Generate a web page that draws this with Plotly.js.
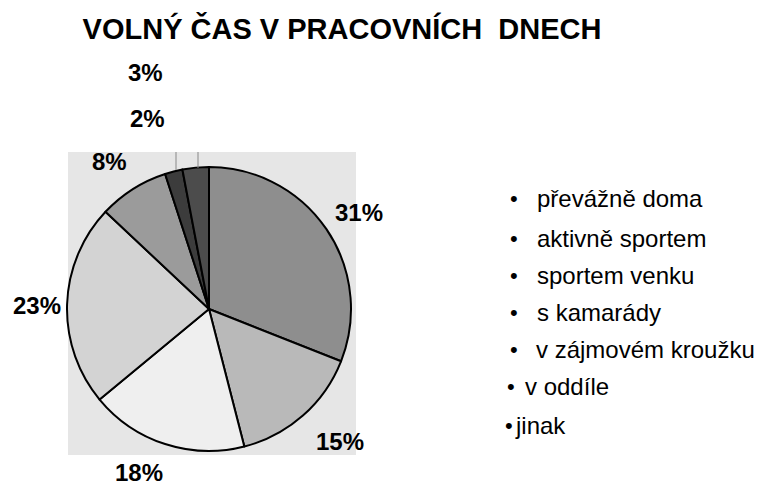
<!DOCTYPE html>
<html>
<head>
<meta charset="utf-8">
<script src="https://cdn.plot.ly/plotly-3.0.1.min.js"></script>
<style>
  html, body { margin: 0; padding: 0; background: #ffffff; }
  #chart { width: 765px; height: 486px; }
</style>
</head>
<body>
<div id="chart"></div>
<script>
// ---- data ----
var chartTitle = 'VOLNÝ ČAS V PRACOVNÍCH  DNECH';
var labels = ['převážně doma', 'aktivně sportem', 'sportem venku', 's kamarády', 'v zájmovém kroužku', 'v oddíle', 'jinak'];
var values = [31, 15, 18, 23, 8, 2, 3];
var sliceColors = ['#8e8e8e', '#b9b9b9', '#efefef', '#d3d3d3', '#9b9b9b', '#3c3c3c', '#4c4c4c'];

// ---- layout helpers (pixel -> paper) ----
var W = 765, H = 486;
function px(x) { return x / W; }
function py(y) { return 1 - y / H; }

// pie geometry
var cx = 209, cy = 309, r = 142;

// percentage label positions (pixels), in slice order
var pctPos = [[359, 213], [340, 441], [139, 472], [37, 305], [110, 161], [147, 118], [145, 72]];

// legend row positions
var legendY = [198, 238, 275, 312, 349, 386, 425];
var bulletX = [514, 514, 514, 514, 514, 511, 509];
var textX = [535, 535, 535, 535, 534, 523, 513];

var annotations = [];
var total = values.reduce(function (a, b) { return a + b; }, 0);
values.forEach(function (v, i) {
  annotations.push({
    xref: 'paper', yref: 'paper', x: px(pctPos[i][0]), y: py(pctPos[i][1]),
    xanchor: 'center', yanchor: 'middle', showarrow: false,
    text: '<b>' + Math.round(v / total * 100) + '%</b>',
    font: { family: 'Liberation Sans, Arial, sans-serif', size: 24, color: '#000000' }
  });
});
labels.forEach(function (lab, i) {
  annotations.push({
    xref: 'paper', yref: 'paper', x: px(bulletX[i]), y: py(legendY[i]),
    xanchor: 'center', yanchor: 'middle', showarrow: false,
    text: '•', font: { family: 'Liberation Sans, Arial, sans-serif', size: 22, color: '#000000' }
  });
  annotations.push({
    xref: 'paper', yref: 'paper', x: px(textX[i]), y: py(legendY[i]),
    xanchor: 'left', yanchor: 'middle', showarrow: false,
    text: lab, font: { family: 'Liberation Sans, Arial, sans-serif', size: 24, color: '#000000' }
  });
});

var shapes = [
  { type: 'rect', xref: 'paper', yref: 'paper', layer: 'below',
    x0: px(68), x1: px(356), y0: py(455), y1: py(152),
    fillcolor: '#e6e6e6', line: { width: 0 } },
  { type: 'line', xref: 'paper', yref: 'paper', x0: px(176), x1: px(176), y0: py(152), y1: py(170),
    line: { color: '#888888', width: 1 } },
  { type: 'line', xref: 'paper', yref: 'paper', x0: px(198), x1: px(198), y0: py(152), y1: py(168),
    line: { color: '#888888', width: 1 } }
];

var trace = {
  type: 'pie',
  labels: labels,
  values: values,
  sort: false,
  direction: 'clockwise',
  rotation: 0,
  textinfo: 'none',
  hoverinfo: 'label+percent',
  showlegend: false,
  marker: { colors: sliceColors, line: { color: '#000000', width: 2 } },
  domain: { x: [px(cx - r), px(cx + r)], y: [py(cy + r), py(cy - r)] }
};

var layout = {
  width: W, height: H,
  margin: { l: 0, r: 0, t: 0, b: 0 },
  paper_bgcolor: '#ffffff',
  plot_bgcolor: '#ffffff',
  showlegend: false,
  title: {
    text: '<b>' + chartTitle + '</b>',
    x: px(342), xanchor: 'center', y: py(29), yanchor: 'middle',
    font: { family: 'Liberation Sans, Arial, sans-serif', size: 29, color: '#000000' }
  },
  annotations: annotations,
  shapes: shapes
};

Plotly.newPlot('chart', [trace], layout, { displayModeBar: false, staticPlot: true });
</script>
</body>
</html>
